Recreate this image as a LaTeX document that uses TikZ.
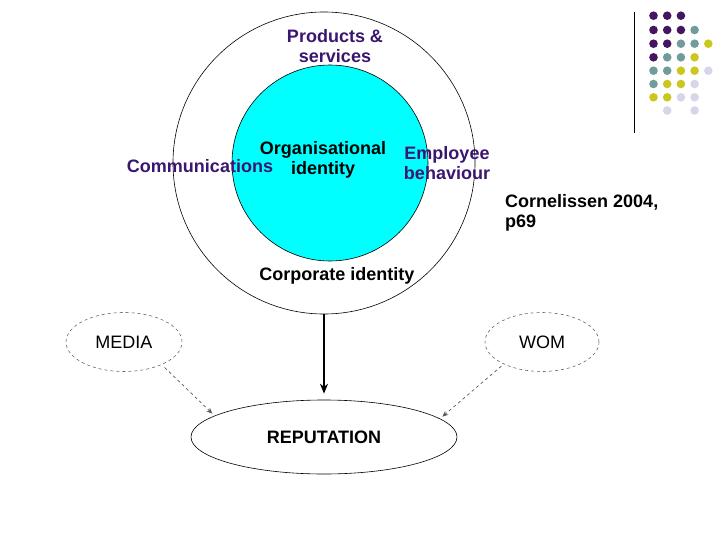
\documentclass[tikz,border=0pt]{standalone}
\usepackage{fontspec}
\setmainfont{Liberation Sans}
\usetikzlibrary{shapes.geometric,arrows.meta}
\definecolor{lblpurple}{RGB}{58,22,110}
\definecolor{dpurple}{RGB}{68,22,96}
\definecolor{dteal}{RGB}{112,156,156}
\definecolor{dyellow}{RGB}{202,200,30}
\definecolor{dlav}{RGB}{214,214,234}
\definecolor{aqua}{RGB}{0,255,255}
\tikzset{
  txt/.style={font=\fontsize{18}{20}\selectfont, inner sep=0pt},
  btxt/.style={txt, font=\fontsize{18}{20}\selectfont\bfseries},
  ptxt/.style={btxt, text=lblpurple},
  dashell/.style={ellipse, draw=black!60, dashed, line width=0.6pt, inner sep=0pt, txt},
  dasharrow/.style={draw=black!65, dashed, line width=0.7pt, -{Stealth[length=6pt,width=5pt]}},
  dot/.style={circle, inner sep=0pt, minimum size=8.6pt},
}
\begin{document}
\begin{tikzpicture}[x=1pt,y=-1pt]
\useasboundingbox (0,0) rectangle (728,546);
% circles
\node[circle, draw=black, line width=0.6pt, minimum size=302pt, inner sep=0pt] (outer) at (324,163) {};
\node[circle, draw=black, line width=0.6pt, fill=aqua, minimum size=196pt, inner sep=0pt] (inner) at (330,163) {};
% labels
\node[ptxt, align=center] (prod) at (335,46) {Products \&\\services};
\node[btxt, align=center] (org) at (323,160) {Organisational\\identity};
\node[ptxt] (comm) at (200,166) {Communications};
\node[ptxt, align=center] (emp) at (447,163) {Employee\\behaviour};
\node[btxt] (corp) at (337,276) {Corporate identity};
\node[btxt, align=left, anchor=west] (cite) at (505,213) {Cornelissen 2004,\\p69};
% lower ellipses
\node[dashell, minimum width=116pt, minimum height=59pt] (media) at (124,342) {MEDIA};
\node[dashell, minimum width=114pt, minimum height=59pt] (wom) at (542,342) {WOM};
\node[ellipse, draw=black, line width=0.6pt, minimum width=266pt, minimum height=74pt, inner sep=0pt, btxt] (rep) at (324,437) {REPUTATION};
% arrows
\draw[line width=1.8pt, -{Stealth[length=10pt,width=8pt]}, shorten >=6pt] (outer.south) -- (outer.south |- rep.north);
\draw[dasharrow, shorten <=4pt, shorten >=3pt] (media.-31) -- (rep.169);
\draw[dasharrow, shorten <=3pt, shorten >=3pt] (wom.210) -- (rep.9);
% decoration
\coordinate (ltop) at (634,12);
\coordinate (lbot) at (634,133);
\draw[line width=1pt] (ltop) -- (lbot);
\foreach \r/\y/\cols in {
  1/15.7/{1/dpurple,2/dpurple,3/dpurple},
  2/30/{1/dpurple,2/dpurple,3/dpurple,4/dteal},
  3/43.7/{1/dpurple,2/dpurple,3/dteal,4/dteal,5/dyellow},
  4/57.3/{1/dpurple,2/dteal,3/dteal,4/dyellow},
  5/70.7/{1/dteal,2/dteal,3/dyellow,4/dyellow,5/dlav},
  6/84/{1/dteal,2/dyellow,3/dyellow,4/dlav},
  7/97.3/{1/dyellow,2/dyellow,3/dlav,4/dlav},
  8/110.5/{2/dlav,4/dlav}} {
  \foreach \c/\col in \cols {
    \node[dot, fill=\col] (d\r-\c) at ({653.5+13.7*(\c-1)},\y) {};
  }
}
\end{tikzpicture}
\end{document}
